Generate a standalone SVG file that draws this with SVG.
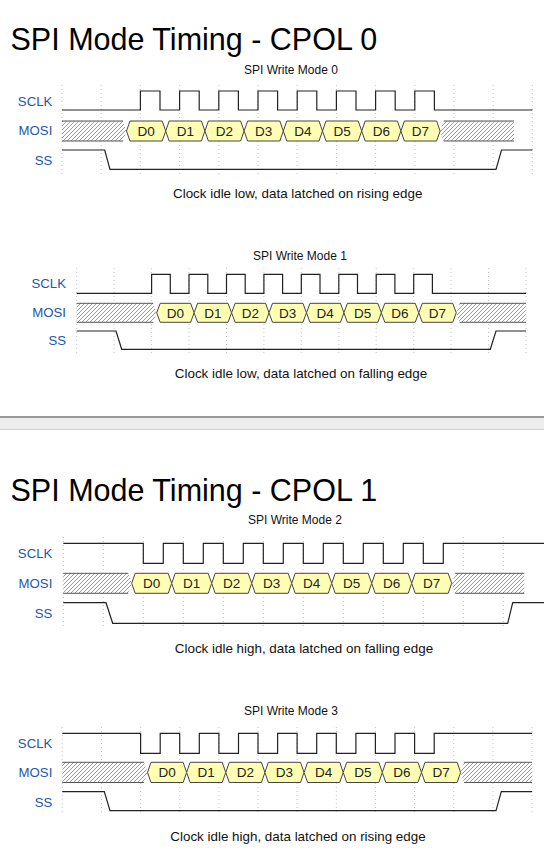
<svg xmlns="http://www.w3.org/2000/svg" xmlns:xlink="http://www.w3.org/1999/xlink" width="544" height="854" viewBox="0 0 544 854">
<style>
text{font-family:"Liberation Sans",Arial,sans-serif}
.title{font-size:30.5px;fill:#000}
.sub{font-size:12px;fill:#111;text-anchor:middle}
.cap{font-size:13.4px;fill:#111;text-anchor:middle}
.lbl{font-size:13.2px;fill:#2456b0;text-anchor:end}
.d{font-size:13.5px;fill:#222;text-anchor:middle}
.grid{fill:none;stroke:#c4c4c4;stroke-width:1;stroke-dasharray:1 3}
.wave{fill:none;stroke:#222;stroke-width:1.2}
.hex{fill:#ffffb4;stroke:#444;stroke-width:1}
.hatch{fill:url(#hatch);stroke:none}
.hb{fill:none;stroke:#555;stroke-width:1}
</style>
<defs>
<pattern id="hatch" patternUnits="userSpaceOnUse" width="4" height="4">
<rect width="4" height="4" fill="#fff"/>
<path d="M0,4 L4,0 M-1,1 L1,-1 M3,5 L5,3" stroke="#777" stroke-width="0.75"/>
</pattern>
<polygon id="hex0" class="hex" points="0,10 3.5,0 35.7,0 39.2,10 35.7,20 3.5,20"/>
<polygon id="hex1" class="hex" points="0,9.5 3.5,0 33.94,0 37.44,9.5 33.94,19 3.5,19"/>
<polygon id="hex2" class="hex" points="0,10 3.5,0 36.5,0 40,10 36.5,20 3.5,20"/>
<polygon id="hex3" class="hex" points="0,10.1 3.5,0 35.64,0 39.14,10.1 35.64,20.2 3.5,20.2"/>
</defs>
<rect width="544" height="854" fill="#fff"/>

<text id="title-cpol0" class="title" x="10.5" y="50">SPI Mode Timing - CPOL 0</text>

<g id="mode0">
<text class="sub" x="291" y="74">SPI Write Mode 0</text>
<path class="grid" d="M62,85V174M101.2,85V174M140.4,85V174M179.6,85V174M218.8,85V174M258,85V174M297.2,85V174M336.4,85V174M375.6,85V174M414.8,85V174M454,85V174M493.2,85V174M532.4,85V174"/>
<g id="mode0-labels">
<text class="lbl" x="52.3" y="105.7">SCLK</text>
<text class="lbl" x="52.3" y="135">MOSI</text>
<text class="lbl" x="52.3" y="164.5">SS</text>
</g>
<path id="mode0-sclk" class="wave" d="M62,110H140.4V91H160V110H179.6V91H199.2V110H218.8V91H238.4V110H258V91H277.6V110H297.2V91H316.8V110H336.4V91H356V110H375.6V91H395.2V110H414.8V91H434.4V110H532.4"/>
<g id="mode0-mosi">
<polygon class="hatch" points="62,121 123,121 126.5,131 123,141 62,141"/>
<path class="hb" d="M62,121H123M62,141H123"/>
<polygon class="hatch" points="440.1,131 443.6,121 514,121 514,141 443.6,141"/>
<path class="hb" d="M443.6,121H514M443.6,141H514"/>
<use xlink:href="#hex0" x="126.5" y="121"/>
<use xlink:href="#hex0" x="165.7" y="121"/>
<use xlink:href="#hex0" x="204.9" y="121"/>
<use xlink:href="#hex0" x="244.1" y="121"/>
<use xlink:href="#hex0" x="283.3" y="121"/>
<use xlink:href="#hex0" x="322.5" y="121"/>
<use xlink:href="#hex0" x="361.7" y="121"/>
<use xlink:href="#hex0" x="400.9" y="121"/>
<text class="d" x="146.1" y="135.8">D0</text>
<text class="d" x="185.3" y="135.8">D1</text>
<text class="d" x="224.5" y="135.8">D2</text>
<text class="d" x="263.7" y="135.8">D3</text>
<text class="d" x="302.9" y="135.8">D4</text>
<text class="d" x="342.1" y="135.8">D5</text>
<text class="d" x="381.3" y="135.8">D6</text>
<text class="d" x="420.5" y="135.8">D7</text>
</g>
<path id="mode0-ss" class="wave" d="M62,150H104.7L110,169.3H496L501.5,150H532.4"/>
<text class="cap" x="297.7" y="198.3">Clock idle low, data latched on rising edge</text>
</g>

<g id="mode1">
<text class="sub" x="300" y="260">SPI Write Mode 1</text>
<path class="grid" d="M76.7,268V354M114.1,268V354M151.6,268V354M189,268V354M226.5,268V354M263.9,268V354M301.3,268V354M338.8,268V354M376.2,268V354M413.7,268V354M451.1,268V354M488.5,268V354M526,268V354"/>
<g id="mode1-labels">
<text class="lbl" x="66" y="288.2">SCLK</text>
<text class="lbl" x="66" y="317.2">MOSI</text>
<text class="lbl" x="66" y="344.5">SS</text>
</g>
<path id="mode1-sclk" class="wave" d="M76.7,293.3H151.6V274.3H170.3V293.3H189V274.3H207.8V293.3H226.5V274.3H245.2V293.3H263.9V274.3H282.6V293.3H301.3V274.3H320V293.3H338.8V274.3H357.5V293.3H376.2V274.3H394.9V293.3H413.7V274.3H432.4V293.3H526"/>
<g id="mode1-mosi">
<polygon class="hatch" points="76.7,303.3 153.2,303.3 156.7,312.8 153.2,322.3 76.7,322.3"/>
<path class="hb" d="M76.7,303.3H153.2M76.7,322.3H153.2"/>
<polygon class="hatch" points="456.2,312.8 459.7,303.3 526,303.3 526,322.3 459.7,322.3"/>
<path class="hb" d="M459.7,303.3H526M459.7,322.3H526"/>
<use xlink:href="#hex1" x="156.7" y="303.3"/>
<use xlink:href="#hex1" x="194.1" y="303.3"/>
<use xlink:href="#hex1" x="231.6" y="303.3"/>
<use xlink:href="#hex1" x="269" y="303.3"/>
<use xlink:href="#hex1" x="306.5" y="303.3"/>
<use xlink:href="#hex1" x="343.9" y="303.3"/>
<use xlink:href="#hex1" x="381.3" y="303.3"/>
<use xlink:href="#hex1" x="418.8" y="303.3"/>
<text class="d" x="175.4" y="317.6">D0</text>
<text class="d" x="212.8" y="317.6">D1</text>
<text class="d" x="250.3" y="317.6">D2</text>
<text class="d" x="287.7" y="317.6">D3</text>
<text class="d" x="325.2" y="317.6">D4</text>
<text class="d" x="362.6" y="317.6">D5</text>
<text class="d" x="400" y="317.6">D6</text>
<text class="d" x="437.5" y="317.6">D7</text>
</g>
<path id="mode1-ss" class="wave" d="M76.7,331H116L121.7,349.3H490.3L496,331H526"/>
<text class="cap" x="301" y="377.5">Clock idle low, data latched on falling edge</text>
</g>

<g id="separator">
<rect x="0" y="416" width="544" height="2" fill="#9a9a9a"/>
<rect x="0" y="418" width="544" height="11" fill="#eeeeee"/>
<rect x="0" y="429" width="544" height="1" fill="#d2d2d2"/>
</g>

<text id="title-cpol1" class="title" x="10.5" y="500.5">SPI Mode Timing - CPOL 1</text>

<g id="mode2">
<text class="sub" x="295" y="524">SPI Write Mode 2</text>
<path class="grid" d="M63.3,537V628M103.3,537V628M143.3,537V628M183.3,537V628M223.3,537V628M263.3,537V628M303.3,537V628M343.3,537V628M383.3,537V628M423.3,537V628M463.3,537V628M503.3,537V628"/>
<g id="mode2-labels">
<text class="lbl" x="52.3" y="557.5">SCLK</text>
<text class="lbl" x="52.3" y="587.5">MOSI</text>
<text class="lbl" x="52.3" y="617.5">SS</text>
</g>
<path id="mode2-sclk" class="wave" d="M63.3,543.3H143.3V563.3H163.3V543.3H183.3V563.3H203.3V543.3H223.3V563.3H243.3V543.3H263.3V563.3H283.3V543.3H303.3V563.3H323.3V543.3H343.3V563.3H363.3V543.3H383.3V563.3H403.3V543.3H423.3V563.3H443.3V543.3H544"/>
<g id="mode2-mosi">
<polygon class="hatch" points="63.3,573.3 128.2,573.3 131.7,583.3 128.2,593.3 63.3,593.3"/>
<path class="hb" d="M63.3,573.3H128.2M63.3,593.3H128.2"/>
<polygon class="hatch" points="451.7,583.3 455.2,573.3 524.3,573.3 524.3,593.3 455.2,593.3"/>
<path class="hb" d="M455.2,573.3H524.3M455.2,593.3H524.3"/>
<use xlink:href="#hex2" x="131.7" y="573.3"/>
<use xlink:href="#hex2" x="171.7" y="573.3"/>
<use xlink:href="#hex2" x="211.7" y="573.3"/>
<use xlink:href="#hex2" x="251.7" y="573.3"/>
<use xlink:href="#hex2" x="291.7" y="573.3"/>
<use xlink:href="#hex2" x="331.7" y="573.3"/>
<use xlink:href="#hex2" x="371.7" y="573.3"/>
<use xlink:href="#hex2" x="411.7" y="573.3"/>
<text class="d" x="151.7" y="588.1">D0</text>
<text class="d" x="191.7" y="588.1">D1</text>
<text class="d" x="231.7" y="588.1">D2</text>
<text class="d" x="271.7" y="588.1">D3</text>
<text class="d" x="311.7" y="588.1">D4</text>
<text class="d" x="351.7" y="588.1">D5</text>
<text class="d" x="391.7" y="588.1">D6</text>
<text class="d" x="431.7" y="588.1">D7</text>
</g>
<path id="mode2-ss" class="wave" d="M63.3,602.7H106L112.7,623.3H507.7L512.7,602.7H544"/>
<text class="cap" x="304" y="653">Clock idle high, data latched on falling edge</text>
</g>

<g id="mode3">
<text class="sub" x="291" y="715">SPI Write Mode 3</text>
<path class="grid" d="M62.3,727V815M101.4,727V815M140.6,727V815M179.7,727V815M218.9,727V815M258,727V815M297.1,727V815M336.3,727V815M375.4,727V815M414.6,727V815M453.7,727V815M492.8,727V815M532,727V815"/>
<g id="mode3-labels">
<text class="lbl" x="52.3" y="747.5">SCLK</text>
<text class="lbl" x="52.3" y="777.3">MOSI</text>
<text class="lbl" x="52.3" y="806.8">SS</text>
</g>
<path id="mode3-sclk" class="wave" d="M62.3,733.3H140.6V753.3H160.2V733.3H179.7V753.3H199.3V733.3H218.9V753.3H238.5V733.3H258V753.3H277.6V733.3H297.1V753.3H316.7V733.3H336.3V753.3H355.9V733.3H375.4V753.3H395V733.3H414.6V753.3H434.2V733.3H532"/>
<g id="mode3-mosi">
<polygon class="hatch" points="62.3,762.3 144,762.3 147.5,772.4 144,782.5 62.3,782.5"/>
<path class="hb" d="M62.3,762.3H144M62.3,782.5H144"/>
<polygon class="hatch" points="460.6,772.4 464.1,762.3 532,762.3 532,782.5 464.1,782.5"/>
<path class="hb" d="M464.1,762.3H532M464.1,782.5H532"/>
<use xlink:href="#hex3" x="147.5" y="762.3"/>
<use xlink:href="#hex3" x="186.6" y="762.3"/>
<use xlink:href="#hex3" x="225.8" y="762.3"/>
<use xlink:href="#hex3" x="264.9" y="762.3"/>
<use xlink:href="#hex3" x="304.1" y="762.3"/>
<use xlink:href="#hex3" x="343.2" y="762.3"/>
<use xlink:href="#hex3" x="382.3" y="762.3"/>
<use xlink:href="#hex3" x="421.5" y="762.3"/>
<text class="d" x="167.1" y="777.2">D0</text>
<text class="d" x="206.2" y="777.2">D1</text>
<text class="d" x="245.4" y="777.2">D2</text>
<text class="d" x="284.5" y="777.2">D3</text>
<text class="d" x="323.7" y="777.2">D4</text>
<text class="d" x="362.8" y="777.2">D5</text>
<text class="d" x="401.9" y="777.2">D6</text>
<text class="d" x="441.1" y="777.2">D7</text>
</g>
<path id="mode3-ss" class="wave" d="M62.3,791.7H104.3L110,810.7H496L501.3,791.7H532"/>
<text class="cap" x="298" y="841">Clock idle high, data latched on rising edge</text>
</g>
</svg>
